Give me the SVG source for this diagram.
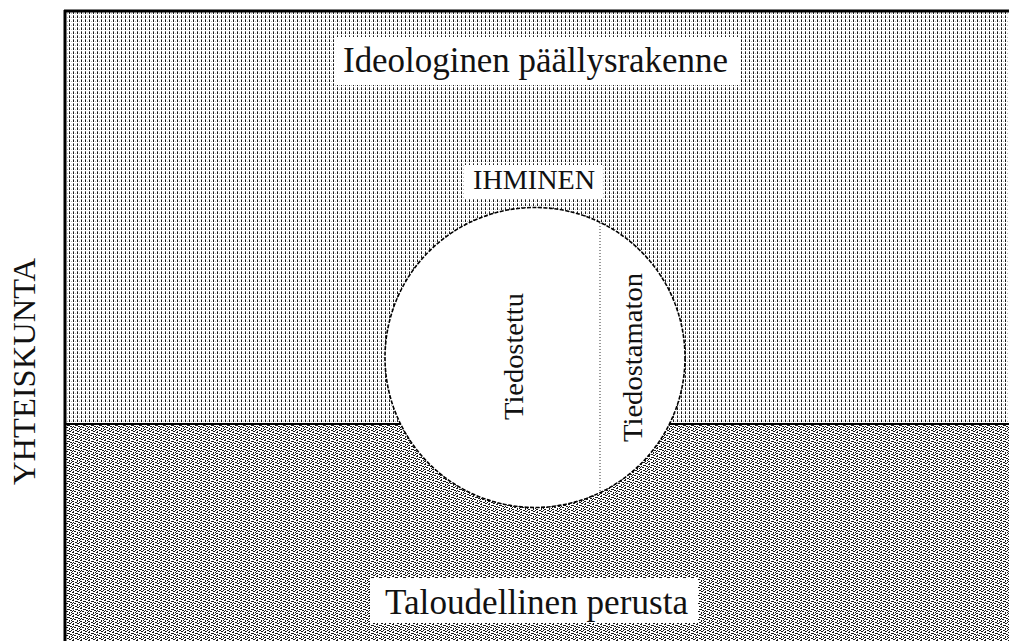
<svg xmlns="http://www.w3.org/2000/svg" width="1009" height="641" viewBox="0 0 1009 641">
  <style>
    .lbl { font-family: "Liberation Serif", "Times New Roman", serif; fill: #111; }
    .frame { stroke: #000; stroke-width: 3; fill: none; }
    .box { fill: #fff; }
  </style>
  <defs>
    <pattern id="vdots" x="0" y="0" width="4" height="4" patternUnits="userSpaceOnUse">
      <rect width="4" height="4" fill="#fff"/>
      <rect x="1" y="0" width="1" height="2" fill="#1a1a1a"/>
      <rect x="1" y="3" width="1" height="1" fill="#666"/>
      <rect x="3" y="1" width="1" height="1" fill="#bbb"/>
    </pattern>
    <pattern id="stipple" x="0" y="0" width="8" height="8" patternUnits="userSpaceOnUse">
      <rect width="8" height="8" fill="#fff"/>
      <g fill="#1a1a1a">
        <rect x="0" y="0" width="2" height="1"/>
        <rect x="4" y="1" width="2" height="1"/>
        <rect x="6" y="2" width="2" height="1"/>
        <rect x="2" y="3" width="2" height="1"/>
        <rect x="5" y="4" width="1" height="2"/>
        <rect x="0" y="5" width="2" height="1"/>
        <rect x="3" y="6" width="2" height="1"/>
        <rect x="7" y="6" width="1" height="1"/>
        <rect x="1" y="7" width="1" height="1"/>
        <rect x="5" y="7" width="2" height="1"/>
        <rect x="3" y="1" width="1" height="1"/>
        <rect x="7" y="4" width="1" height="1"/>
        <rect x="1" y="2" width="1" height="1"/>
        <rect x="0" y="3" width="1" height="1"/>
      </g>
    </pattern>
  </defs>

  <rect width="1009" height="641" fill="#fff"/>

  <g id="superstructure">
    <rect x="65" y="11" width="944" height="413" fill="url(#vdots)"/>
    <rect class="box" x="335" y="37" width="405" height="48"/>
    <text class="lbl" x="535.5" y="72" font-size="35" text-anchor="middle" textLength="385" lengthAdjust="spacingAndGlyphs">Ideologinen päällysrakenne</text>
  </g>

  <g id="base">
    <rect x="65" y="424" width="944" height="217" fill="url(#stipple)"/>
    <rect class="box" x="370" y="578" width="328" height="45"/>
    <text class="lbl" x="536.5" y="614" font-size="35" text-anchor="middle" textLength="303" lengthAdjust="spacingAndGlyphs">Taloudellinen perusta</text>
  </g>

  <g id="frame">
    <line class="frame" x1="64" y1="11" x2="1009" y2="11"/>
    <line class="frame" x1="65" y1="10" x2="65" y2="641"/>
    <line x1="65" y1="424" x2="1009" y2="424" stroke="#000" stroke-width="2"/>
  </g>

  <g id="society-label">
    <text class="lbl" transform="translate(35,371.5) rotate(-90)" font-size="32" text-anchor="middle" textLength="227" lengthAdjust="spacingAndGlyphs">YHTEISKUNTA</text>
  </g>

  <g id="human">
    <rect class="box" x="465" y="165" width="138" height="33"/>
    <text class="lbl" x="534" y="189" font-size="28" text-anchor="middle" textLength="122" lengthAdjust="spacingAndGlyphs">IHMINEN</text>
    <circle cx="535" cy="357.5" r="150" fill="#fff" stroke="#000" stroke-width="1.6" stroke-dasharray="4 1.5"/>
  </g>

  <g id="connectors">
    <line x1="600" y1="223" x2="600" y2="492" stroke="#333" stroke-width="1" stroke-dasharray="1 2"/>
  </g>

  <g id="conscious">
    <text class="lbl" transform="translate(523,356.5) rotate(-90)" font-size="28" text-anchor="middle" textLength="127" lengthAdjust="spacingAndGlyphs">Tiedostettu</text>
  </g>

  <g id="unconscious">
    <text class="lbl" transform="translate(642,357.5) rotate(-90)" font-size="28" text-anchor="middle" textLength="169" lengthAdjust="spacingAndGlyphs">Tiedostamaton</text>
  </g>
</svg>
